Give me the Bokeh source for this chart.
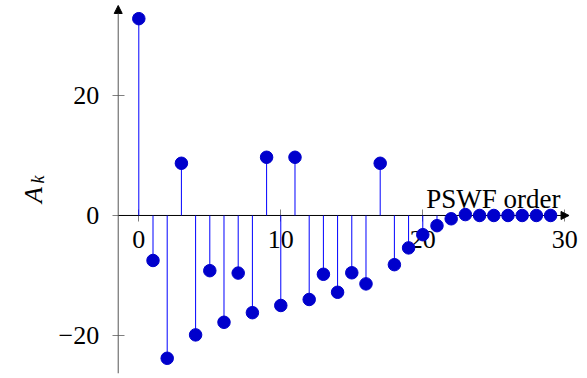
from bokeh.plotting import figure
from bokeh.models import Range1d, LinearAxis, FixedTicker, Arrow, NormalHead, Label
from bokeh.embed import file_html
from bokeh.resources import INLINE

# data
k = list(range(30))
A = [32.8, -7.5, -23.8, 8.7, -19.9, -9.2, -17.8, -9.6, -16.2, 9.7,
     -15.0, 9.7, -14.0, -9.8, -12.8, -9.55, -11.4, 8.7, -8.2, -5.4,
     -3.2, -1.7, -0.55, 0.15, 0.0, 0.0, 0.0, 0.0, 0.0, 0.0]
x_ticks = [0, 10, 20, 30]
x_tick_labels = ["0", "10", "20", "30"]
y_ticks = [-20, 0, 20]
y_tick_labels = ["\u221220", "0", "20"]
x_label = "PSWF order"

# axis extents (pgfplots "axis lines = middle")
XMIN, XMAX = -1.45, 30.3
YMIN, YMAX = -26.3, 35.0

FONT = "Liberation Serif"

p = figure(width=587, height=378,
           x_range=Range1d(-9.74, 31.6), y_range=Range1d(-27.17, 35.83),
           output_backend="svg", toolbar_location=None, min_border=0,
           x_axis_location=None, y_axis_location=None)
p.grid.visible = False
p.outline_line_color = None
p.background_fill_color = "white"

# axis lines with arrows
p.add_layout(Arrow(x_start=XMIN, y_start=0, x_end=XMAX, y_end=0,
                   line_color="black", line_width=1, level="underlay",
                   end=NormalHead(size=8, fill_color="black", line_color="black")))
p.add_layout(Arrow(x_start=XMIN, y_start=YMIN, x_end=XMIN, y_end=YMAX,
                   line_color="#555555", line_width=1, level="underlay",
                   end=NormalHead(size=8, fill_color="black", line_color="black")))

xa = LinearAxis(fixed_location=0, ticker=FixedTicker(ticks=x_ticks),
                major_label_overrides={t: s for t, s in zip(x_ticks, x_tick_labels)})
ya = LinearAxis(fixed_location=XMIN, ticker=FixedTicker(ticks=y_ticks),
                major_label_overrides={t: s for t, s in zip(y_ticks, y_tick_labels)})
for ax in (xa, ya):
    ax.axis_line_color = None
    ax.minor_tick_line_color = None
    ax.major_tick_in = 6
    ax.major_tick_out = 6
    ax.major_tick_line_color = "#808080"
    ax.major_label_text_font = FONT
    ax.major_label_text_font_size = "26px"
    ax.major_label_text_color = "black"
    ax.level = "underlay"
xa.major_label_standoff = 10
ya.major_label_standoff = 13
p.add_layout(xa, "below")
p.add_layout(ya, "left")

# stems and markers
p.segment(x0=k, y0=[0] * len(k), x1=k, y1=A, line_color="blue", line_width=1)
p.scatter(k, A, size=12.5, fill_color="#0000cc", line_color="#0000cc")

# labels
p.add_layout(Label(x=29.7, y=2.8, text=x_label, text_align="right",
                   text_baseline="alphabetic", text_font=FONT,
                   text_font_size="27px", text_color="black"))
p.add_layout(Label(x=-7.4, y=3.4, text="A", angle=1.5708, text_align="center",
                   text_baseline="alphabetic", text_font=FONT, text_font_style="italic",
                   text_font_size="26px", text_color="black"))
p.add_layout(Label(x=-7.1, y=6.0, text="k", angle=1.5708, text_align="center",
                   text_baseline="alphabetic", text_font=FONT, text_font_style="italic",
                   text_font_size="18px", text_color="black"))

open("out.html", "w").write(file_html(p, INLINE))
